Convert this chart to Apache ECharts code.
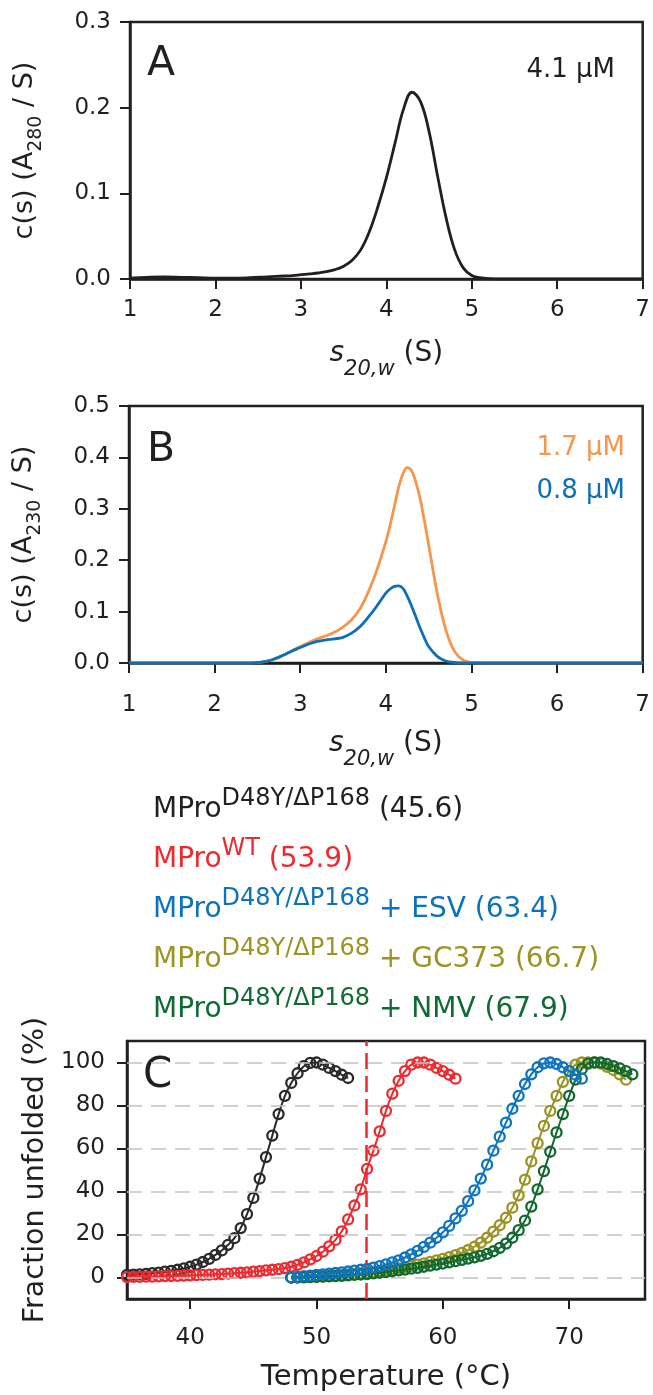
<!DOCTYPE html>
<html>
<head>
<meta charset="utf-8">
<script src="https://cdn.jsdelivr.net/npm/echarts@6/dist/echarts.min.js"></script>
<style>
html,body{margin:0;padding:0;background:#fff;}
#chart{width:653px;height:1395px;}
</style>
</head>
<body>
<div id="chart"></div>
<script>
// ---------- DATA ----------
// Panel A: c(s) at 4.1 uM (A280)
const sA = [1.0,1.2,1.4,1.6,1.8,2.0,2.2,2.4,2.6,2.8,2.9,3.0,3.1,3.2,3.3,3.4,3.5,3.6,3.7,3.8,3.9,4.0,4.1,4.2,4.3,4.4,4.5,4.6,4.7,4.8,4.9,5.0,5.1,5.2,5.3,5.6,6.0,7.0];
const cA = [0.001,0.002,0.0025,0.002,0.0015,0.001,0.001,0.0015,0.0025,0.0035,0.004,0.005,0.006,0.007,0.0085,0.011,0.015,0.022,0.034,0.055,0.084,0.118,0.158,0.198,0.218,0.207,0.172,0.12,0.071,0.034,0.013,0.004,0.0015,0.0005,0,0,0,0];

// Panel B: c(s) at 1.7 uM and 0.8 uM (A230)
const sB = [1.0,2.4,2.5,2.6,2.7,2.8,2.9,3.0,3.1,3.2,3.3,3.4,3.5,3.6,3.7,3.8,3.9,4.0,4.05,4.1,4.15,4.2,4.25,4.3,4.35,4.4,4.45,4.5,4.6,4.7,4.8,4.9,5.0,5.1,5.4,7.0];
const cB17 = [0,0,0.001,0.003,0.008,0.015,0.024,0.032,0.040,0.047,0.053,0.060,0.070,0.084,0.106,0.140,0.183,0.236,0.268,0.305,0.342,0.368,0.380,0.374,0.352,0.320,0.277,0.230,0.136,0.065,0.023,0.006,0.001,0,0,0];
const cB08 = [0,0,0.001,0.003,0.008,0.015,0.023,0.030,0.037,0.042,0.045,0.047,0.050,0.058,0.071,0.090,0.112,0.136,0.144,0.149,0.150,0.145,0.130,0.111,0.090,0.068,0.049,0.032,0.013,0.004,0.001,0,0,0,0,0];

// Panel C: thermal unfolding, fraction unfolded (%)
const tempsApo = [35.0,35.5,36.0,36.5,37.0,37.5,38.0,38.5,39.0,39.5,40.0,40.5,41.0,41.5,42.0,42.5,43.0,43.5,44.0,44.5,45.0,45.5,46.0,46.5,47.0,47.5,48.0,48.5,49.0,49.5,50.0,50.5,51.0,51.5,52.0,52.5,53.0,53.5,54.0,54.5,55.0,55.5,56.0,56.5,57.0,57.5,58.0,58.5,59.0,59.5,60.0,60.5,61.0];
const tempsLig = [48.0,48.5,49.0,49.5,50.0,50.5,51.0,51.5,52.0,52.5,53.0,53.5,54.0,54.5,55.0,55.5,56.0,56.5,57.0,57.5,58.0,58.5,59.0,59.5,60.0,60.5,61.0,61.5,62.0,62.5,63.0,63.5,64.0,64.5,65.0,65.5,66.0,66.5,67.0,67.5,68.0,68.5,69.0,69.5,70.0,70.5,71.0,71.5,72.0,72.5,73.0,73.5,74.0,74.5,75.0];
const fMutant = [1.2,1.3,1.5,1.7,2.0,2.3,2.7,3.1,3.6,4.2,5.0,6.0,7.2,8.7,10.5,12.6,15.2,18.3,23.0,29.5,37.0,46.0,56.0,66.0,76.0,84.5,90.5,95.0,98.3,99.8,100,99.0,97.5,96.0,94.3,92.8];
const fWT = [0.2,0.3,0.3,0.4,0.4,0.5,0.6,0.7,0.8,0.9,1.0,1.1,1.2,1.3,1.5,1.6,1.8,2.0,2.2,2.4,2.7,3.0,3.3,3.6,3.9,4.4,5.0,5.9,7.0,8.4,10.0,12.0,14.5,17.5,21.5,27.0,33.5,41.0,50.5,59.0,68.0,77.5,85.5,91.5,96.0,99.0,100,100,99.0,97.5,96.0,94.3,92.5];
const fESV = [0.0,0.3,0.6,0.9,1.2,1.5,1.8,2.1,2.4,2.8,3.2,3.6,4.0,4.6,5.3,6.1,7.0,8.0,9.3,10.8,12.4,14.2,16.2,18.5,21.0,24.0,27.5,31.0,35.5,40.5,46.0,52.5,59.0,65.5,72.0,78.5,84.5,90.0,94.5,97.8,99.6,100,99.3,97.8,96.0,94.3,92.5];
const fGC373 = [0.0,0.1,0.2,0.3,0.4,0.5,0.7,0.9,1.1,1.3,1.6,1.9,2.2,2.6,3.0,3.4,3.9,4.4,4.9,5.4,6.0,6.6,7.3,8.0,8.7,9.5,10.4,11.5,12.8,14.3,16.2,18.5,21.3,24.3,27.8,32.5,38.2,45.5,54.0,62.5,70.5,77.5,84.5,91.0,96.0,99.0,100,100,100,99.5,98.0,96.5,94.5,92.0];
const fNMV = [0.0,0.0,0.1,0.2,0.3,0.4,0.5,0.6,0.8,1.0,1.2,1.4,1.6,1.9,2.2,2.5,2.9,3.3,3.7,4.1,4.5,5.0,5.5,6.0,6.5,7.0,7.6,8.2,8.8,9.4,10.1,11.0,12.2,13.8,15.8,18.5,22.0,26.5,33.0,41.0,49.5,58.5,67.5,76.0,84.5,92.0,97.0,99.5,100,100,99.3,98.3,97.3,96.0,94.5];
const tmWT = 53.9;

// tick labels
const ticksC_x = [40,50,60,70];
const ticksC_y = [0,20,40,60,80,100];

// legend entries (panel C)
const legendBase = ['MPro','MPro','MPro','MPro','MPro'];
const legendSup = ['D48Y/\u0394P168','WT','D48Y/\u0394P168','D48Y/\u0394P168','D48Y/\u0394P168'];
const legendTail = [' (45.6)',' (53.9)',' + ESV (63.4)',' + GC373 (66.7)',' + NMV (67.9)'];

// ---------- STYLE ----------
const FONT = 'DejaVu Sans';
const INK = '#231f20';
const colC = ['#2a2a2a','#ec2a30','#0d74c0','#9a9322','#11692f'];
const colB = ['#f5964c','#0b70b8'];

function zip(xs, ys){ return ys.map((v,i)=>[xs[i], v]); }

function baseAxis(extra){
  return Object.assign({
    type:'value',
    axisLine:{show:true,onZero:false,lineStyle:{color:INK,width:2.5}},
    axisTick:{show:true,inside:false,length:10,lineStyle:{color:INK,width:2}},
    splitLine:{show:false},
    nameTextStyle:{color:INK,fontFamily:FONT}
  }, extra);
}
function lbl(margin, size, fmt, custom){
  const o = {color:INK,fontFamily:FONT,fontSize:size,margin:margin};
  if (fmt) o.formatter = fmt;
  if (custom) o.customValues = custom;
  return o;
}
const f1 = v => v.toFixed(1);

const yNameRich = (sub) => ({
  name:'{m|c(s) (A}{s|' + sub + '}{m| / S)}',
  nameLocation:'middle', nameGap:84,
  nameTextStyle:{rich:{
    m:{fontSize:27,fontFamily:FONT,color:INK,lineHeight:42},
    s:{fontSize:19,fontFamily:FONT,color:INK,verticalAlign:'bottom',lineHeight:19}
  }}
});
const xNameRich = (gap) => ({
  name:'{i|s}{s|20,w}{m| (S)}',
  nameLocation:'middle', nameGap:gap,
  nameTextStyle:{rich:{
    i:{fontSize:28,fontFamily:FONT,fontStyle:'italic',color:INK,lineHeight:52},
    m:{fontSize:28,fontFamily:FONT,color:INK,lineHeight:52},
    s:{fontSize:21,fontFamily:FONT,fontStyle:'italic',color:INK,verticalAlign:'bottom',lineHeight:21}
  }}
});

const grids = [
  {left:130, right:7, top:22, height:257, show:true, borderColor:INK, borderWidth:2.5},
  {left:129, right:8, top:406, height:257, show:true, borderColor:INK, borderWidth:2.5},
  {left:127, right:8, top:1041, height:258, show:true, borderColor:INK, borderWidth:2.5}
];

const xAxes = [
  baseAxis(Object.assign({gridIndex:0,min:1,max:7,interval:1,axisLabel:lbl(20,23)}, xNameRich(49))),
  baseAxis(Object.assign({gridIndex:1,min:1,max:7,interval:1,axisLabel:lbl(31,23)}, xNameRich(55))),
  baseAxis({gridIndex:2,min:35,max:76,
    axisTick:{show:true,inside:false,length:10,lineStyle:{color:INK,width:2},customValues:ticksC_x},
    axisLabel:lbl(28,23,null,ticksC_x),
    name:'Temperature (\u00b0C)',nameLocation:'middle',nameGap:64,
    nameTextStyle:{color:INK,fontFamily:FONT,fontSize:29}})
];
const yAxes = [
  baseAxis(Object.assign({gridIndex:0,min:0,max:0.3,interval:0.1,axisLabel:lbl(19,23,f1)}, yNameRich('280'))),
  baseAxis(Object.assign({gridIndex:1,min:0,max:0.5,interval:0.1,axisLabel:lbl(19,23,f1)}, yNameRich('230'))),
  baseAxis({gridIndex:2,min:-10,max:110,
    axisTick:{show:true,inside:false,length:10,lineStyle:{color:INK,width:2},customValues:ticksC_y},
    axisLabel:lbl(22,23,null,ticksC_y),
    name:'Fraction unfolded (%)',nameLocation:'middle',nameGap:71,
    nameTextStyle:{color:INK,fontFamily:FONT,fontSize:28.5}})
];

function curve(xi, data, color, w, z){
  return {type:'line',xAxisIndex:xi,yAxisIndex:xi,data:data,showSymbol:false,smooth:0.4,
    lineStyle:{color:color,width:w},itemStyle:{color:color},z:z||2,silent:true};
}
function melt(data, color, z){
  return {type:'line',xAxisIndex:2,yAxisIndex:2,data:data,smooth:0.3,
    symbol:'circle',symbolSize:10,showSymbol:true,showAllSymbol:true,
    lineStyle:{color:color,width:2},
    itemStyle:{color:'rgba(0,0,0,0)',borderColor:color,borderWidth:2.3},
    z:z,silent:true};
}

const series = [
  curve(0, zip(sA,cA), INK, 2.8),
  curve(1, zip(sB,cB17), colB[0], 2.8, 2),
  curve(1, zip(sB,cB08), colB[1], 2.8, 3),
  // grid lines panel C
  {type:'line',xAxisIndex:2,yAxisIndex:2,data:[],z:1,silent:true,
    markLine:{silent:true,symbol:['none','none'],label:{show:false},animation:false,
      lineStyle:{color:'#c2c2c2',width:1.6,type:[15,9]},
      data:ticksC_y.map(v=>({yAxis:v}))}},
  melt(zip(tempsApo,fMutant), colC[0], 3),
  melt(zip(tempsApo,fWT), colC[1], 4),
  melt(zip(tempsLig,fGC373), colC[3], 5),
  melt(zip(tempsLig,fNMV), colC[4], 6),
  melt(zip(tempsLig,fESV), colC[2], 7),
  // WT Tm marker line
  {type:'line',xAxisIndex:2,yAxisIndex:2,data:[],z:9,silent:true,
    markLine:{silent:true,symbol:['none','none'],label:{show:false},animation:false,
      lineStyle:{color:colC[1],width:2.5,type:[16,7]},
      data:[{xAxis:tmWT}]}}
];

const legendColors = [INK, '#ee2a2f', '#0b72bb', '#9c9424', '#0f6a33'];
const graphics = [
  {type:'text',x:147,y:64,style:{text:'A',fontSize:41,fontFamily:FONT,fill:INK,verticalAlign:'middle'}},
  {type:'text',x:615,y:70,style:{text:'4.1 \u00b5M',fontSize:26,fontFamily:FONT,fill:INK,align:'right',verticalAlign:'middle'}},
  {type:'text',x:147,y:450,style:{text:'B',fontSize:41,fontFamily:FONT,fill:INK,verticalAlign:'middle'}},
  {type:'text',x:625,y:448,style:{text:'1.7 \u00b5M',fontSize:26,fontFamily:FONT,fill:colB[0],align:'right',verticalAlign:'middle'}},
  {type:'text',x:625,y:491,style:{text:'0.8 \u00b5M',fontSize:26,fontFamily:FONT,fill:colB[1],align:'right',verticalAlign:'middle'}},
  {type:'text',x:143,y:1076,style:{text:'C',fontSize:42,fontFamily:FONT,fill:INK,verticalAlign:'middle'}}
];
legendBase.forEach((b,i)=>{
  const c = legendColors[i];
  graphics.push({type:'text',x:153,y:810+50*i,style:{
    text:'{m|'+b+'}{s|'+legendSup[i]+'}{m|'+legendTail[i]+'}',
    verticalAlign:'middle',
    rich:{
      m:{fontSize:28,fontFamily:FONT,fill:c,lineHeight:47},
      s:{fontSize:24,fontFamily:FONT,fill:c,verticalAlign:'top',lineHeight:24}
    }}});
});

const chart = echarts.init(document.getElementById('chart'), null, {renderer:'canvas'});
chart.setOption({
  animation:false,
  backgroundColor:'#fff',
  grid:grids,
  xAxis:xAxes,
  yAxis:yAxes,
  series:series,
  graphic:graphics
});
</script>
</body>
</html>
